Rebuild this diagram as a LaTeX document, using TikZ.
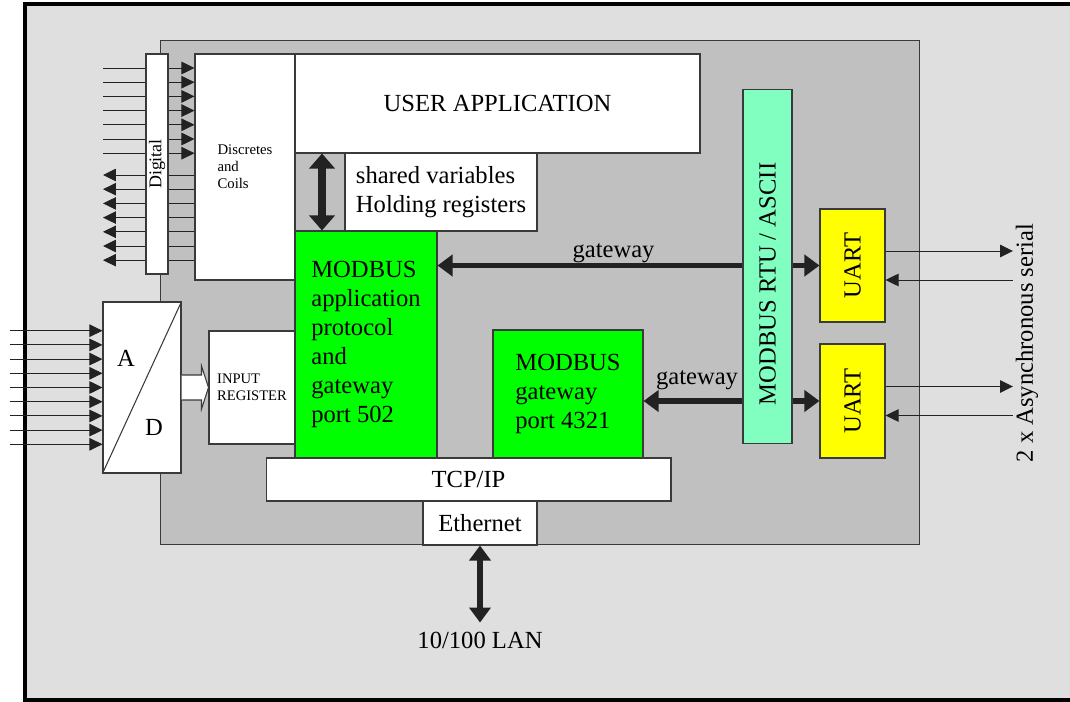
\documentclass[tikz,border=0pt]{standalone}
\usepackage{fontspec}
\setmainfont{Liberation Serif}
\usepackage{xcolor}
\usepackage{tikz}
\usetikzlibrary{arrows.meta,calc}
\definecolor{mbgreen}{HTML}{00FF00}
\definecolor{mbyellow}{HTML}{FFFF00}
\definecolor{mbaqua}{HTML}{80FFC0}
\definecolor{mbboard}{HTML}{C0C0C0}
\definecolor{mbframe}{HTML}{DFDFDF}
\definecolor{mbline}{HTML}{3A3A3A}
\definecolor{mbdark}{HTML}{222222}
\newcommand\mbfont{\fontsize{14}{16.5}\selectfont}
\tikzset{
  mbox/.style={draw=mbline,line width=.6pt,fill=white,inner sep=0pt,font=\mbfont},
  mgreen/.style={mbox,fill=mbgreen,align=left},
  muart/.style={mbox,fill=mbyellow,minimum width=1.3cm},
  msmall/.style={font=\fontsize{8.4}{9.6}\selectfont,align=left},
  mlabel/.style={inner sep=1pt,font=\mbfont},
  msig/.style={>={Triangle[length=.26cm,width=.25cm]},line width=.5pt,draw=mbdark},
  mflow/.style={>={Triangle[length=.3cm,width=.42cm]},line width=.11cm,draw=mbdark},
  mfat/.style={>={Triangle[length=.3cm,width=.5cm]},line width=.16cm,draw=mbdark}
}

\begin{document}
\begin{tikzpicture}[x=0.02cm,y=-0.02cm]
    \useasboundingbox (0,0) rectangle (1070,702);
    \draw[line width=.08cm,fill=mbframe] (24.7,4) rectangle (1080,700);
    \node[mbox,fill=mbboard,minimum width=15.2cm,minimum height=10.1cm] (board) at (540,292.5) {};
    % digital side
    \node[mbox,msmall,minimum width=2cm,minimum height=4.52cm] (disc) at (245,167) {Discretes\\and\\Coils};
    \foreach \i in {0,...,6} {
      \coordinate (p) at (103,68+14.2*\i);
      \draw[msig,->] (p) -- (disc.west |- p);
      \coordinate (q) at (103,175+14.2*\i);
      \draw[msig,->] (disc.west |- q) -- (q);
    }
    \node[mbox,minimum width=.44cm,minimum height=4.4cm,font=\fontsize{10.2}{12}\selectfont] (dig) at (157,164) {\rotatebox{90}{Digital}};
    % application
    \node[mbox,minimum width=3.84cm,minimum height=1.56cm,align=left] (shared) at (441,192) {shared variables\\Holding registers};
    \node[mbox,minimum width=8.1cm,minimum height=1.98cm] (app) at (497.5,103.5) {USER APPLICATION};
    \node[mgreen,minimum width=2.84cm,minimum height=4.54cm] (mbapp) at (366,344.5) {MODBUS\\application\\protocol\\and\\gateway\\port 502};
    \node[mgreen,minimum width=3cm,minimum height=2.56cm] (mbgw) at (568,394) {MODBUS\\gateway\\port 4321};
    \node[mbox,minimum width=8.1cm,minimum height=.86cm] (tcp) at (468.5,479.5) {TCP/IP};
    \node[mbox,minimum width=2.28cm,minimum height=.88cm] (eth) at (480,523) {Ethernet};
    \coordinate (sv) at (322,0);
    \draw[mfat,<->] (app.south -| sv) -- (mbapp.north -| sv);
    % serial side
    \node[mbox,fill=mbaqua,minimum width=.98cm,minimum height=7.1cm] (rtu) at (767.5,266.5) {};
    \node[mlabel] (rtulbl) at (767.5,284) {\rotatebox{90}{MODBUS RTU / ASCII}};
    \node[muart,minimum height=2.26cm] (uA) at (852.5,265.5) {\rotatebox{90}{UART}};
    \node[muart,minimum height=2.28cm] (uB) at (852.5,401) {\rotatebox{90}{UART}};
    \draw[mflow,->] (rtu.west |- uA.west) -- (mbapp.east |- uA.west);
    \draw[mflow,->] (rtu.east |- uA.west) -- (uA.west);
    \node[mlabel] (gw1) at (613.5,253) {gateway};
    \draw[mflow,->] (rtu.west |- uB.west) -- (mbgw.east |- uB.west);
    \draw[mflow,->] (rtu.east |- uB.west) -- (uB.west);
    \node[mlabel] (gw2) at (697,380) {gateway};
    \coordinate (ser) at (1013,0);
    \foreach \u in {uA,uB} {
      \draw[msig,->] ($(\u.east)+(0,-14.5)$) -- ($(\u.east -| ser)+(0,-14.5)$);
      \draw[msig,<-] ($(\u.east)+(0,14.5)$) -- ($(\u.east -| ser)+(0,14.5)$);
    }
    \node[mlabel] (serlbl) at (1027,343) {\rotatebox{90}{2 x Asynchronous serial}};
    % analog side
    \node[mbox,minimum width=1.56cm,minimum height=3.42cm] (ad) at (142,387.5) {};
    \draw[mbline,line width=.6pt] (ad.south west) -- (ad.north east);
    \node[mlabel] (atxt) at (126,358) {A};
    \node[mlabel] (dtxt) at (154,427) {D};
    \foreach \i in {0,...,8} {
      \coordinate (p) at (10,330.7+14.2*\i);
      \draw[msig,->] (p) -- (ad.west |- p);
    }
    \node[mbox,msmall,font=\fontsize{8.3}{9.6}\selectfont,minimum width=1.72cm,minimum height=2.26cm] (inreg) at (252,387.5) {INPUT\\REGISTER};
    \draw[mbline,line width=.6pt,fill=white] ($(ad.east)+(0,-12.5)$) -- ++(20,0) -- ++(0,-9)
      -- (inreg.west) -- ($(ad.east)+(20,21.5)$) -- ++(0,-9) -- ($(ad.east)+(0,12.5)$);
    % network
    \node[mlabel,inner ysep=5pt] (lan) at (480,640) {10/100 LAN};
    \draw[mflow,<->] (eth.south) -- (lan.north);
  \end{tikzpicture}
\end{document}
